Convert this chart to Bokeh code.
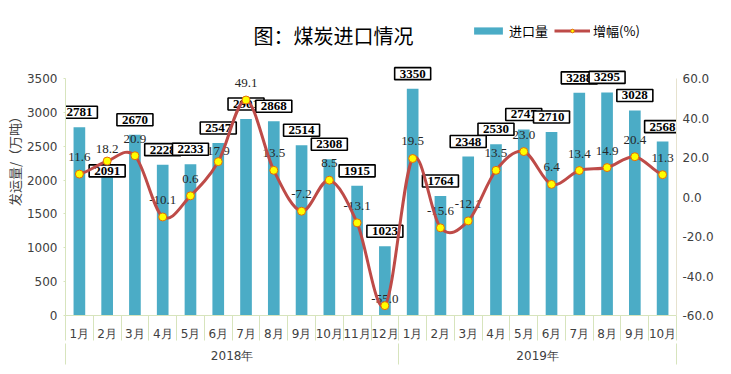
import numpy as np
from bokeh.plotting import figure
from bokeh.models import (Range1d, LinearAxis, FixedTicker, CustomJSTickFormatter,
                          NumeralTickFormatter, ColumnDataSource, Label, Legend, LegendItem)
from bokeh.core.properties import value
from bokeh.embed import file_html
from bokeh.resources import INLINE

# ---------------- data ----------------
months = ["1月", "2月", "3月", "4月", "5月", "6月", "7月", "8月", "9月", "10月", "11月", "12月",
          "1月", "2月", "3月", "4月", "5月", "6月", "7月", "8月", "9月", "10月"]
years = ["2018年"] * 12 + ["2019年"] * 10
imports = [2781, 2091, 2670, 2228, 2233, 2547, 2901, 2868, 2514, 2308, 1915, 1023,
           3350, 1764, 2348, 2530, 2747, 2710, 3288, 3295, 3028, 2568]
growth = [11.6, 18.2, 20.9, -10.1, 0.6, 17.9, 49.1, 13.5, -7.2, 8.5, -13.1, -55.0,
          19.5, -15.6, -12.1, 13.5, 23.0, 6.4, 13.4, 14.9, 20.4, 11.3]
left_ticks = [0, 500, 1000, 1500, 2000, 2500, 3000, 3500]
right_ticks = [-60, -40, -20, 0, 20, 40, 60]
title_text = "图：煤炭进口情况"
y_label = "发运量/（万吨）"
series_names = ["进口量", "增幅(%)"]

# ---------------- styling / layout ----------------
BAR = "#4BACC6"
LINE = "#BE4B48"
AXIS = "#D7E4BD"
TXT = "#404040"
bar_label_nudge = {1: -3}          # screen px (negative = up)
growth_label_nudge = {1: -12, 5: -11, 11: -7}

W, H = 731, 374
FRAME_BOTTOM = 315      # px from top where value 0 sits
AXIS_TOP_PX = 78        # px from top where the top tick sits
span = FRAME_BOTTOM - AXIS_TOP_PX
lo, hi = left_ticks[0], left_ticks[-1]
rlo, rhi = right_ticks[0], right_ticks[-1]
top_val = lo + (hi - lo) * FRAME_BOTTOM / span
rtop_val = rlo + (rhi - rlo) * FRAME_BOTTOM / span

n = len(months)
x = [i + 0.5 for i in range(n)]

p = figure(width=W, height=H, output_backend="svg", toolbar_location=None,
           x_range=Range1d(0, n), y_range=Range1d(lo, top_val),
           min_border_left=65, min_border_right=55, min_border_top=0,
           min_border_bottom=H - FRAME_BOTTOM)
p.title.visible = False
p.extra_y_ranges = {"pct": Range1d(rlo, rtop_val)}
p.outline_line_color = None
p.xgrid.visible = False
p.ygrid.visible = False
p.background_fill_color = "white"

# x axis (months)
xa = p.xaxis[0]
xa.ticker = FixedTicker(ticks=x, minor_ticks=list(range(n + 1)))
xa.formatter = CustomJSTickFormatter(args=dict(labels=months),
                                     code="return labels[Math.floor(tick)] || ''")
xa.major_tick_in = 0
xa.major_tick_out = 0
xa.minor_tick_in = 0
xa.minor_tick_out = 25
xa.minor_tick_line_color = AXIS
xa.axis_line_color = AXIS
xa.major_label_standoff = -14
xa.major_label_text_font = "DejaVu Sans"
xa.major_label_text_font_size = "12px"
xa.major_label_text_color = TXT

# x axis (years)
groups = []
for yv in years:
    if yv not in groups:
        groups.append(yv)
centers, bounds = [], [0]
for g in groups:
    idx = [i for i, yv in enumerate(years) if yv == g]
    centers.append((idx[0] + idx[-1] + 1) / 2)
    bounds.append(idx[-1] + 1)
ya2 = LinearAxis(ticker=FixedTicker(ticks=centers, minor_ticks=bounds),
                 formatter=CustomJSTickFormatter(args=dict(pos=centers, names=groups),
                                                 code="const i = pos.indexOf(tick); return i >= 0 ? names[i] : '';"))
ya2.axis_line_color = None
ya2.major_tick_in = 0
ya2.major_tick_out = 0
ya2.minor_tick_in = 0
ya2.minor_tick_out = 21
ya2.minor_tick_line_color = AXIS
ya2.major_label_standoff = -16
ya2.major_label_text_font = "DejaVu Sans"
ya2.major_label_text_font_size = "12px"
ya2.major_label_text_color = TXT
p.add_layout(ya2, "below")

# left y axis
yl = p.yaxis[0]
yl.ticker = FixedTicker(ticks=left_ticks)
yl.bounds = (lo, hi)
yl.axis_label = y_label
yl.axis_label_text_font = "Noto Sans CJK SC"
yl.axis_label_text_font_size = "13px"
yl.axis_label_text_font_style = "normal"
yl.axis_label_text_color = TXT
yl.axis_label_standoff = 0
yl.major_tick_in = 0
yl.major_tick_out = 2
yl.minor_tick_line_color = None
yl.axis_line_color = AXIS
yl.major_tick_line_color = AXIS
yl.major_label_standoff = 6
yl.major_label_text_font = "DejaVu Sans"
yl.major_label_text_font_size = "12px"
yl.major_label_text_color = TXT

# right y axis
yr = LinearAxis(y_range_name="pct", ticker=FixedTicker(ticks=right_ticks),
                formatter=NumeralTickFormatter(format="0.0"))
yr.bounds = (rlo, rhi)
yr.axis_line_color = "#E6E2CE"
yr.major_tick_in = 0
yr.major_tick_out = 0
yr.minor_tick_line_color = None
yr.major_label_standoff = 6
yr.major_label_text_font = "DejaVu Sans"
yr.major_label_text_font_size = "12px"
yr.major_label_text_color = TXT
p.add_layout(yr, "right")

# ---------------- glyphs ----------------
src = ColumnDataSource(dict(
    x=x, imports=imports, growth=growth,
    imp_txt=[str(v) for v in imports],
    gr_txt=[f"{v:.1f}" for v in growth],
    imp_off=[bar_label_nudge.get(i, -15) for i in range(n)],
    gr_off=[growth_label_nudge.get(i, -17) for i in range(n)],
))

bars = p.vbar(x="x", top="imports", width=0.42, source=src, fill_color=BAR, line_color=None)

p.text(x="x", y="imports", text="imp_txt", y_offset="imp_off", source=src,
       text_align="center", text_baseline="middle",
       text_font=value("Liberation Serif"), text_font_style="bold",
       text_font_size="13px", text_color="black",
       background_fill_color="white", border_line_color="black", border_line_width=1.6,
       padding=dict(left=5, right=5, top=2, bottom=2))

p.text(x="x", y="growth", text="gr_txt", y_offset="gr_off", source=src, y_range_name="pct",
       text_align="center", text_baseline="middle",
       text_font=value("Liberation Serif"), text_font_size="13px", text_color="#262626")

# smooth (Catmull-Rom -> cubic Bezier) curve through the growth points
gy = np.array(growth, dtype=float)
gx = np.array(x, dtype=float)
prev = np.r_[gy[0], gy[:-1]]
nxt = np.r_[gy[1:], gy[-1]]
m = (nxt - prev) / 2.0
bez = dict(x0=gx[:-1], y0=gy[:-1], x1=gx[1:], y1=gy[1:],
           cx0=gx[:-1] + 1 / 3, cy0=gy[:-1] + m[:-1] / 3,
           cx1=gx[1:] - 1 / 3, cy1=gy[1:] - m[1:] / 3)
line_r = p.bezier(source=ColumnDataSource(bez), x0="x0", y0="y0", x1="x1", y1="y1",
                  cx0="cx0", cy0="cy0", cx1="cx1", cy1="cy1",
                  line_color=LINE, line_width=3, y_range_name="pct")
marks = p.scatter(x="x", y="growth", source=src, size=8, fill_color="#FFFF00",
                  line_color="#E46C0A", line_width=1, y_range_name="pct")

# ---------------- title & legend ----------------
p.add_layout(Label(x=333 - 65, y=FRAME_BOTTOM - 35, x_units="screen", y_units="screen",
                   text=title_text, text_align="center", text_baseline="middle",
                   text_font="Noto Sans CJK SC", text_font_size="20px", text_color="black"))

legend = Legend(items=[LegendItem(label=series_names[0], renderers=[bars]),
                       LegendItem(label=series_names[1], renderers=[line_r, marks])],
                location=(470 - 65, FRAME_BOTTOM - 40), orientation="horizontal",
                border_line_color=None, background_fill_alpha=0,
                label_text_font="Noto Sans CJK SC", label_text_font_size="13px",
                label_text_color="black",
                glyph_width=36, glyph_height=9, label_standoff=3, spacing=6,
                padding=0, margin=0)
p.add_layout(legend)

open("out.html", "w").write(file_html(p, INLINE))
